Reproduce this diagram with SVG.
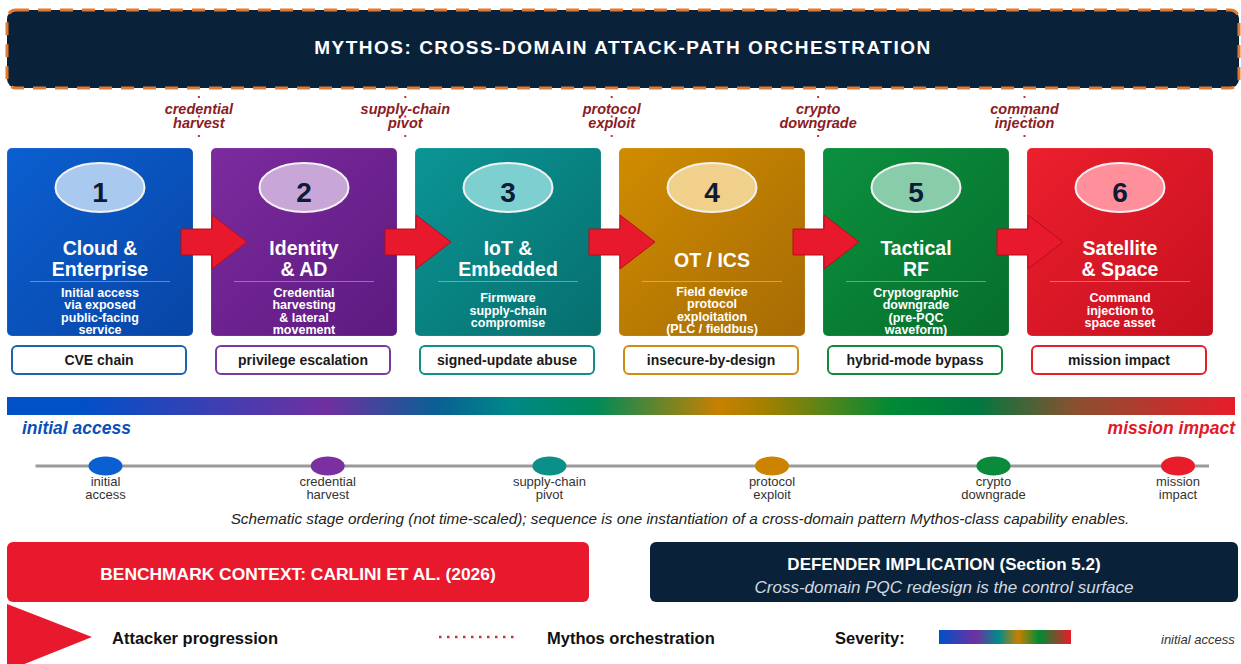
<svg xmlns="http://www.w3.org/2000/svg" width="1241" height="664" viewBox="0 0 1241 664">
  <defs>
    <linearGradient id="g1" x1="0" y1="0" x2="1" y2="1"><stop offset="0" stop-color="#0b5fd0"/><stop offset="1" stop-color="#0845a6"/></linearGradient>
    <linearGradient id="g2" x1="0" y1="0" x2="1" y2="1"><stop offset="0" stop-color="#7c2b9e"/><stop offset="1" stop-color="#5d1a80"/></linearGradient>
    <linearGradient id="g3" x1="0" y1="0" x2="1" y2="1"><stop offset="0" stop-color="#0b9595"/><stop offset="1" stop-color="#066f6e"/></linearGradient>
    <linearGradient id="g4" x1="0" y1="0" x2="1" y2="1"><stop offset="0" stop-color="#d08c00"/><stop offset="1" stop-color="#a66b05"/></linearGradient>
    <linearGradient id="g5" x1="0" y1="0" x2="1" y2="1"><stop offset="0" stop-color="#0b903e"/><stop offset="1" stop-color="#066e2c"/></linearGradient>
    <linearGradient id="g6" x1="0" y1="0" x2="1" y2="1"><stop offset="0" stop-color="#ec1f2d"/><stop offset="1" stop-color="#c6101f"/></linearGradient>
    <!-- severity ramp across the six domains -->
    <linearGradient id="ramp" x1="0" y1="0" x2="1" y2="0">
      <stop offset="0" stop-color="#0050c8"/>
      <stop offset="0.06" stop-color="#0050c8"/>
      <stop offset="0.26" stop-color="#7030a0"/>
      <stop offset="0.35" stop-color="#0a5f95"/>
      <stop offset="0.41" stop-color="#008888"/>
      <stop offset="0.48" stop-color="#008a58"/>
      <stop offset="0.58" stop-color="#c88000"/>
      <stop offset="0.62" stop-color="#a08000"/>
      <stop offset="0.72" stop-color="#008a35"/>
      <stop offset="0.79" stop-color="#007840"/>
      <stop offset="0.87" stop-color="#8a5030"/>
      <stop offset="1" stop-color="#e81c2a"/>
    </linearGradient>
    <linearGradient id="ramp-small" x1="0" y1="0" x2="1" y2="0">
      <stop offset="0" stop-color="#0050c8"/>
      <stop offset="0.28" stop-color="#7030a0"/>
      <stop offset="0.45" stop-color="#008a8a"/>
      <stop offset="0.6" stop-color="#c88000"/>
      <stop offset="0.76" stop-color="#008a35"/>
      <stop offset="1" stop-color="#e81c2a"/>
    </linearGradient>
  </defs>
  <style>
    text { font-family: "Liberation Sans", Arial, sans-serif; }
    .box { stroke: rgba(255,255,255,0.12); stroke-width: 1; }
    .num-oval { stroke: #f2f2f2; stroke-width: 2; }
    .num { font-size: 28px; font-weight: bold; fill: #0f1a35; text-anchor: middle; }
    .title { font-size: 19.5px; font-weight: bold; fill: #ffffff; text-anchor: middle; }
    .rule { stroke: rgba(255,255,255,0.35); stroke-width: 1; }
    .desc { font-size: 12.5px; font-weight: bold; fill: #ffffff; text-anchor: middle; }
    .tag { fill: #ffffff; stroke-width: 2; }
    .tag-text { font-size: 14px; font-weight: bold; fill: #1a1a1a; text-anchor: middle; }
    .flow { fill: #e8192c; stroke: #b30f1f; stroke-width: 1; }
    .orch { stroke: #c0303f; stroke-width: 2; stroke-dasharray: 2 17.5; }
    .orch-label { font-size: 14.5px; font-weight: bold; font-style: italic; fill: #8b1c24; text-anchor: middle; }
    .tl-dot { stroke: none; }
    .tl-label { font-size: 13px; fill: #333333; text-anchor: middle; }
    .legend { font-size: 16.5px; font-weight: bold; fill: #111111; }
  </style>

  <rect width="1241" height="664" fill="#ffffff"/>

  <!-- header banner -->
  <g id="header">
    <rect x="7" y="10" width="1232" height="78" rx="9" fill="#0a2239" stroke="#e07a30" stroke-width="3" stroke-dasharray="13 9"/>
    <text x="623" y="53.5" text-anchor="middle" font-size="19px" font-weight="bold" letter-spacing="1.5" fill="#ffffff">MYTHOS: CROSS-DOMAIN ATTACK-PATH ORCHESTRATION</text>
  </g>

  <!-- stage 1 -->
  <g id="stage-1">
    <rect class="box" x="7" y="148" width="186" height="188" rx="5" fill="url(#g1)"/>
    <ellipse class="num-oval" cx="100" cy="187.5" rx="44.5" ry="24.5" fill="#a9c9ee"/>
    <text class="num" x="100" y="201.5">1</text>
    <text class="title" x="100" y="254.5">Cloud &amp;</text>
    <text class="title" x="100" y="275.5">Enterprise</text>
    <line class="rule" x1="30" y1="281.5" x2="170" y2="281.5"/>
    <text class="desc" x="100" y="297">Initial access</text>
    <text class="desc" x="100" y="309.4">via exposed</text>
    <text class="desc" x="100" y="321.8">public-facing</text>
    <text class="desc" x="100" y="334.2">service</text>
    <rect class="tag" x="12" y="346" width="174" height="28" rx="5" stroke="#1d63b0"/>
    <text class="tag-text" x="99" y="365">CVE chain</text>
  </g>

  <!-- stage 2 -->
  <g id="stage-2">
    <rect class="box" x="211" y="148" width="186" height="188" rx="5" fill="url(#g2)"/>
    <ellipse class="num-oval" cx="304" cy="187.5" rx="44.5" ry="24.5" fill="#c9a6d8"/>
    <text class="num" x="304" y="201.5">2</text>
    <text class="title" x="304" y="254.5">Identity</text>
    <text class="title" x="304" y="275.5">&amp; AD</text>
    <line class="rule" x1="234" y1="281.5" x2="374" y2="281.5"/>
    <text class="desc" x="304" y="297">Credential</text>
    <text class="desc" x="304" y="309.4">harvesting</text>
    <text class="desc" x="304" y="321.8">&amp; lateral</text>
    <text class="desc" x="304" y="334.2">movement</text>
    <rect class="tag" x="216" y="346" width="174" height="28" rx="5" stroke="#7b3a9e"/>
    <text class="tag-text" x="303" y="365">privilege escalation</text>
  </g>

  <!-- stage 3 -->
  <g id="stage-3">
    <rect class="box" x="415" y="148" width="186" height="188" rx="5" fill="url(#g3)"/>
    <ellipse class="num-oval" cx="508" cy="187.5" rx="44.5" ry="24.5" fill="#7ecfcf"/>
    <text class="num" x="508" y="201.5">3</text>
    <text class="title" x="508" y="254.5">IoT &amp;</text>
    <text class="title" x="508" y="275.5">Embedded</text>
    <line class="rule" x1="438" y1="281.5" x2="578" y2="281.5"/>
    <text class="desc" x="508" y="302">Firmware</text>
    <text class="desc" x="508" y="314.5">supply-chain</text>
    <text class="desc" x="508" y="327">compromise</text>
    <rect class="tag" x="420" y="346" width="174" height="28" rx="5" stroke="#0e8f8a"/>
    <text class="tag-text" x="507" y="365">signed-update abuse</text>
  </g>

  <!-- stage 4 -->
  <g id="stage-4">
    <rect class="box" x="619" y="148" width="186" height="188" rx="5" fill="url(#g4)"/>
    <ellipse class="num-oval" cx="712" cy="187.5" rx="44.5" ry="24.5" fill="#f0d08a"/>
    <text class="num" x="712" y="201.5">4</text>
    <text class="title" x="712" y="267">OT / ICS</text>
    <line class="rule" x1="642" y1="281.5" x2="782" y2="281.5"/>
    <text class="desc" x="712" y="295.8">Field device</text>
    <text class="desc" x="712" y="308.2">protocol</text>
    <text class="desc" x="712" y="320.6">exploitation</text>
    <text class="desc" x="712" y="333">(PLC / fieldbus)</text>
    <rect class="tag" x="624" y="346" width="174" height="28" rx="5" stroke="#d08e10"/>
    <text class="tag-text" x="711" y="365">insecure-by-design</text>
  </g>

  <!-- stage 5 -->
  <g id="stage-5">
    <rect class="box" x="823" y="148" width="186" height="188" rx="5" fill="url(#g5)"/>
    <ellipse class="num-oval" cx="916" cy="187.5" rx="44.5" ry="24.5" fill="#88ccaa"/>
    <text class="num" x="916" y="201.5">5</text>
    <text class="title" x="916" y="254.5">Tactical</text>
    <text class="title" x="916" y="275.5">RF</text>
    <line class="rule" x1="846" y1="281.5" x2="986" y2="281.5"/>
    <text class="desc" x="916" y="297">Cryptographic</text>
    <text class="desc" x="916" y="309.4">downgrade</text>
    <text class="desc" x="916" y="321.8">(pre-PQC</text>
    <text class="desc" x="916" y="334.2">waveform)</text>
    <rect class="tag" x="828" y="346" width="174" height="28" rx="5" stroke="#128a3e"/>
    <text class="tag-text" x="915" y="365">hybrid-mode bypass</text>
  </g>

  <!-- stage 6 -->
  <g id="stage-6">
    <rect class="box" x="1027" y="148" width="186" height="188" rx="5" fill="url(#g6)"/>
    <ellipse class="num-oval" cx="1120" cy="187.5" rx="44.5" ry="24.5" fill="#ff8f9a"/>
    <text class="num" x="1120" y="201.5">6</text>
    <text class="title" x="1120" y="254.5">Satellite</text>
    <text class="title" x="1120" y="275.5">&amp; Space</text>
    <line class="rule" x1="1050" y1="281.5" x2="1190" y2="281.5"/>
    <text class="desc" x="1120" y="302">Command</text>
    <text class="desc" x="1120" y="314.5">injection to</text>
    <text class="desc" x="1120" y="327">space asset</text>
    <rect class="tag" x="1032" y="346" width="174" height="28" rx="5" stroke="#e81c2a"/>
    <text class="tag-text" x="1119" y="365">mission impact</text>
  </g>

  <!-- connectors: orchestration taps from the banner and stage-to-stage flow arrows -->
  <g id="connectors">
    <line class="orch" x1="198.9" y1="96" x2="198.9" y2="137"/>
    <line class="orch" x1="405.3" y1="96" x2="405.3" y2="137"/>
    <line class="orch" x1="611.7" y1="96" x2="611.7" y2="137"/>
    <line class="orch" x1="818.1" y1="96" x2="818.1" y2="137"/>
    <line class="orch" x1="1024.5" y1="96" x2="1024.5" y2="137"/>

    <text class="orch-label" x="198.9" y="114">credential</text>
    <text class="orch-label" x="198.9" y="128">harvest</text>
    <text class="orch-label" x="405.3" y="114">supply-chain</text>
    <text class="orch-label" x="405.3" y="128">pivot</text>
    <text class="orch-label" x="611.7" y="114">protocol</text>
    <text class="orch-label" x="611.7" y="128">exploit</text>
    <text class="orch-label" x="818.1" y="114">crypto</text>
    <text class="orch-label" x="818.1" y="128">downgrade</text>
    <text class="orch-label" x="1024.5" y="114">command</text>
    <text class="orch-label" x="1024.5" y="128">injection</text>

    <polygon class="flow" points="181,229 212,229 212,215 247,242 212,269 212,255 181,255"/>
    <polygon class="flow" points="385,229 416,229 416,215 451,242 416,269 416,255 385,255"/>
    <polygon class="flow" points="589,229 620,229 620,215 655,242 620,269 620,255 589,255"/>
    <polygon class="flow" points="793,229 824,229 824,215 859,242 824,269 824,255 793,255"/>
    <polygon class="flow" points="997,229 1028,229 1028,215 1063,242 1028,269 1028,255 997,255"/>
  </g>

  <!-- severity ramp -->
  <g id="severity-ramp">
    <rect x="7" y="397" width="1228" height="18" fill="url(#ramp)"/>
    <text x="22" y="433.5" font-size="17.5px" font-weight="bold" font-style="italic" fill="#0a4fb8">initial access</text>
    <text x="1235" y="433.5" text-anchor="end" font-size="17.5px" font-weight="bold" font-style="italic" fill="#e01a2a">mission impact</text>
  </g>

  <!-- stage timeline -->
  <g id="timeline">
    <line x1="35.5" y1="466" x2="1209" y2="466" stroke="#9a9a9a" stroke-width="3"/>
    <ellipse class="tl-dot" cx="105.5" cy="466" rx="17" ry="9.5" fill="#0a60d0"/>
    <ellipse class="tl-dot" cx="327.7" cy="466" rx="17" ry="9.5" fill="#7a30a0"/>
    <ellipse class="tl-dot" cx="549.4" cy="466" rx="17" ry="9.5" fill="#0a9088"/>
    <ellipse class="tl-dot" cx="772" cy="466" rx="17" ry="9.5" fill="#cc8400"/>
    <ellipse class="tl-dot" cx="993.5" cy="466" rx="17" ry="9.5" fill="#0a8a3a"/>
    <ellipse class="tl-dot" cx="1178" cy="466" rx="17" ry="9.5" fill="#e81c2a"/>
    <text class="tl-label" x="105.5" y="486">initial</text>
    <text class="tl-label" x="105.5" y="498.6">access</text>
    <text class="tl-label" x="327.7" y="486">credential</text>
    <text class="tl-label" x="327.7" y="498.6">harvest</text>
    <text class="tl-label" x="549.4" y="486">supply-chain</text>
    <text class="tl-label" x="549.4" y="498.6">pivot</text>
    <text class="tl-label" x="772" y="486">protocol</text>
    <text class="tl-label" x="772" y="498.6">exploit</text>
    <text class="tl-label" x="993.5" y="486">crypto</text>
    <text class="tl-label" x="993.5" y="498.6">downgrade</text>
    <text class="tl-label" x="1178" y="486">mission</text>
    <text class="tl-label" x="1178" y="498.6">impact</text>
    <text x="680" y="523.5" text-anchor="middle" font-size="15.3px" font-style="italic" fill="#222222">Schematic stage ordering (not time-scaled); sequence is one instantiation of a cross-domain pattern Mythos-class capability enables.</text>
  </g>

  <!-- benchmark panel -->
  <g id="benchmark">
    <rect x="7" y="542" width="582" height="60" rx="6" fill="#e8192c"/>
    <text x="298" y="579.5" text-anchor="middle" font-size="17.4px" font-weight="bold" fill="#ffffff">BENCHMARK CONTEXT: CARLINI ET AL. (2026)</text>
  </g>

  <!-- defender panel -->
  <g id="defender">
    <rect x="650" y="542" width="588" height="60" rx="6" fill="#0a2239"/>
    <text x="944" y="570" text-anchor="middle" font-size="17px" font-weight="bold" fill="#ffffff">DEFENDER IMPLICATION (Section 5.2)</text>
    <text x="944" y="593" text-anchor="middle" font-size="17px" font-style="italic" fill="#d3d9e0">Cross-domain PQC redesign is the control surface</text>
  </g>

  <!-- legend -->
  <g id="legend">
    <polygon points="7,604 92,637 7,671" fill="#e8192c"/>
    <text class="legend" x="112" y="643.5">Attacker progression</text>
    <line x1="439" y1="637" x2="518" y2="637" stroke="#c83040" stroke-width="2.5" stroke-dasharray="2.5 5.5"/>
    <text class="legend" x="547" y="643.5">Mythos orchestration</text>
    <text class="legend" x="835" y="643.5">Severity:</text>
    <rect x="939" y="630" width="132" height="14" fill="url(#ramp-small)"/>
    <text x="1161" y="644" font-size="13px" font-style="italic" fill="#333333">initial access</text>
  </g>
</svg>
